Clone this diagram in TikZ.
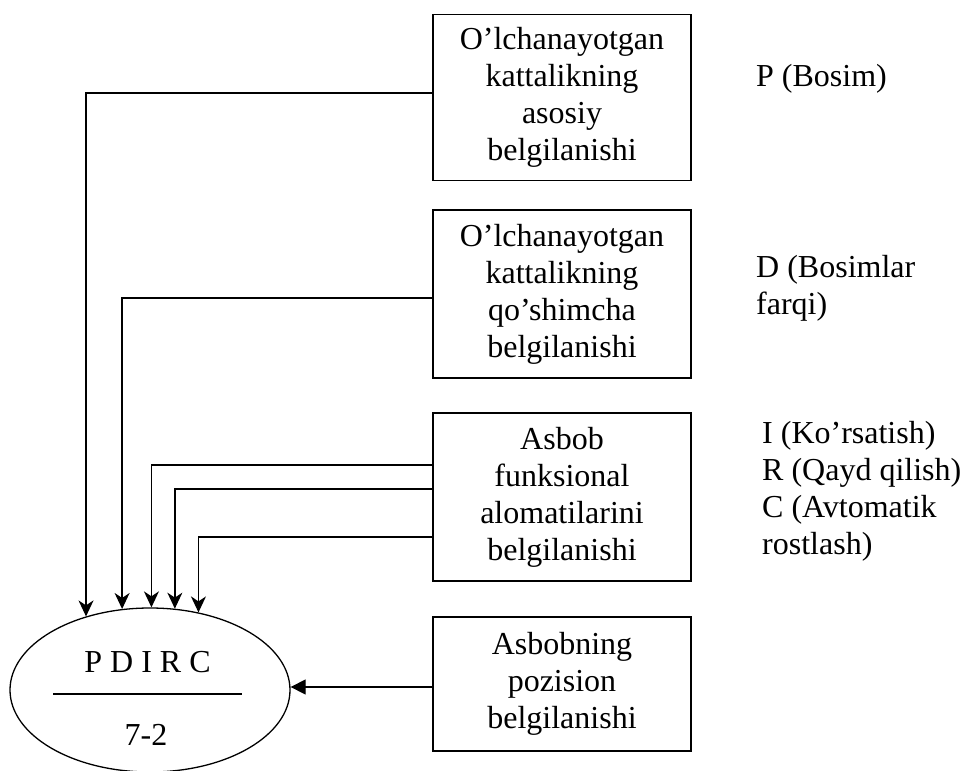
\documentclass[tikz,border=0pt]{standalone}
\usepackage{fontspec}
\setmainfont{Liberation Serif}
\usetikzlibrary{shapes.geometric,arrows.meta}

\begin{document}
\begin{tikzpicture}[x=1pt,y=-1pt,
		every node/.style={font=\fontsize{32}{37}\selectfont},
		blok/.style={draw,line width=1.3pt,minimum width=258pt,minimum height=166pt,align=center,inner sep=0pt},
		izoh/.style={anchor=base west,align=left,inner sep=0pt},
		strelka/.style={line width=1.3pt,-{Stealth[length=16pt,width=15pt,inset=5pt]}},
		strelkab/.style={line width=1.3pt,-{Triangle[length=15pt,width=15pt]}}]
			\useasboundingbox (0,0) rectangle (962,771);
			
			% bloklar
			\node[blok] (b1) at (562,97.5) {O’lchanayotgan\\kattalikning\\asosiy\\belgilanishi};
			\node[blok,minimum height=168pt] (b2) at (562,294) {O’lchanayotgan\\kattalikning\\qo’shimcha\\belgilanishi};
			\node[blok,minimum height=168pt] (b3) at (562,497) {Asbob\\funksional\\alomatilarini\\belgilanishi};
			\node[blok,minimum height=134pt] (b4) at (562,684) {Asbobning\\pozision\\belgilanishi};
			
			% asbob belgisi
			\node[draw,ellipse,line width=1.3pt,minimum width=280pt,minimum height=164pt,inner sep=0pt] (pos) at (150,690) {};
			\node[anchor=base] (harf) at (147.5,672) {P D I R C};
			\node[anchor=base] (raqam) at (146,745) {7-2};
			\coordinate (chap) at (53,694);
			\coordinate (ong) at (242,694);
			\draw[line width=1.3pt] (chap) -- (ong);
			
			% izohlar (base = oxirgi qator)
			\node[izoh] (p) at (756,86) {P (Bosim)};
			\node[izoh] (d) at (756,314) {D (Bosimlar\\farqi)};
			\node[izoh] (irc) at (762,554) {I (Ko’rsatish)\\R (Qayd qilish)\\C (Avtomatik\\rostlash)};
			
			% ulanishlar
			\draw[strelka] ([yshift=4.5pt]b1.west) -| (pos.131.3);
			\draw[strelka] ([yshift=-4pt]b2.west) -| (pos.109.9);
			\draw[strelka] ([yshift=32pt]b3.west) -| (pos.89.3);
			\draw[strelka] ([yshift=8pt]b3.west) -| (pos.73.5);
			\draw[strelka] ([yshift=-40pt]b3.west) -| (pos.58.7);
			\draw[strelkab] ([yshift=-3pt]b4.west) -- ([yshift=-3pt]b4.west -| pos.east);
		\end{tikzpicture}
\end{document}
